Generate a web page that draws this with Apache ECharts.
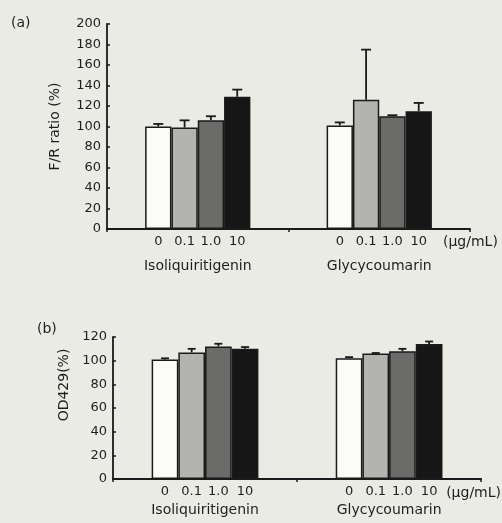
<!DOCTYPE html>
<html>
<head>
<meta charset="utf-8">
<script src="https://cdn.jsdelivr.net/npm/echarts@6/dist/echarts.min.js"></script>
<style>
html,body{margin:0;padding:0;background:#ebebe6;}
#c{width:502px;height:523px;}
</style>
</head>
<body>
<div id="c"></div>
<script>
// ---- data ----
var categories = ['Isoliquiritigenin', 'Glycycoumarin'];
var concLabels = ['0', '0.1', '1.0', '10'];
// Panel (a) F/R ratio (%), one array per concentration: [Isoliquiritigenin, Glycycoumarin]
var frMean0   = [100, 101];
var frMean01  = [99, 126];
var frMean10  = [106, 110];
var frMean100 = [129, 115];
var frErr0   = [2.5, 3];
var frErr01  = [7, 49];
var frErr10  = [4, 1];
var frErr100 = [7, 8];
// Panel (b) OD429 (%)
var odMean0   = [101, 102];
var odMean01  = [107, 106];
var odMean10  = [112, 108];
var odMean100 = [110, 114];
var odErr0   = [1, 1];
var odErr01  = [3, 0.5];
var odErr10  = [2.3, 2];
var odErr100 = [1.5, 2.2];
var yTicksA = [0, 20, 40, 60, 80, 100, 120, 140, 160, 180, 200];
var yTicksB = [0, 20, 40, 60, 80, 100, 120];

var frMeans = [frMean0, frMean01, frMean10, frMean100];
var frErrs = [frErr0, frErr01, frErr10, frErr100];
var odMeans = [odMean0, odMean01, odMean10, odMean100];
var odErrs = [odErr0, odErr01, odErr10, odErr100];

var barColors = ['#fbfbf8', '#b3b3b0', '#6b6b6a', '#161616'];
var txt = '#1e1e1e';
var font = 'DejaVu Sans';
var GAP = 0.42;

function barSeries(means, axisIdx, labelDist) {
  return means.map(function (m, i) {
    return {
      type: 'bar',
      xAxisIndex: axisIdx, yAxisIndex: axisIdx,
      data: m,
      barGap: '0%',
      barCategoryGap: (GAP * 100) + '%',
      itemStyle: { color: barColors[i], borderColor: '#1a1a1a', borderWidth: 1.5 },
      label: {
        show: true, position: 'bottom', distance: labelDist,
        formatter: concLabels[i],
        color: txt, fontFamily: font, fontSize: 13
      },
      silent: true,
      z: 2
    };
  });
}

function errSeries(means, errs, axisIdx, capHalf) {
  var data = [];
  for (var i = 0; i < means.length; i++) {
    for (var c = 0; c < categories.length; c++) {
      data.push([c, i, means[i][c], errs[i][c]]);
    }
  }
  return {
    type: 'custom',
    xAxisIndex: axisIdx, yAxisIndex: axisIdx,
    data: data,
    encode: { x: 0, y: 2 },
    silent: true,
    z: 3,
    renderItem: function (params, api) {
      var c = api.value(0), i = api.value(1), m = api.value(2), e = api.value(3);
      var band = api.size([1, 0])[0];
      var bw = band * (1 - GAP) / 4;
      var base = api.coord([c, m]);
      var top = api.coord([c, m + e]);
      var x = base[0] + (i - 1.5) * bw;
      var style = { stroke: '#1a1a1a', lineWidth: 1.8 };
      return {
        type: 'group',
        children: [
          { type: 'line', shape: { x1: x, y1: base[1], x2: x, y2: top[1] }, style: style },
          { type: 'line', shape: { x1: x - capHalf, y1: top[1], x2: x + capHalf, y2: top[1] }, style: style }
        ]
      };
    }
  };
}

function xAxisDef(gridIdx, margin, nameGap, namePadTop) {
  return {
    type: 'category', gridIndex: gridIdx,
    data: categories,
    name: '(\u03bcg/mL)',
    nameLocation: 'end',
    nameGap: nameGap,
    nameTextStyle: { color: txt, fontFamily: font, fontSize: 14, verticalAlign: 'top', align: 'left', padding: [namePadTop, 0, 0, 0] },
    axisLine: { lineStyle: { color: '#1a1a1a', width: 1.8 } },
    axisTick: { show: true, length: 3, lineStyle: { color: '#1a1a1a', width: 1.5 } },
    axisLabel: { color: txt, fontFamily: font, fontSize: 14, margin: margin },
    splitLine: { show: false }
  };
}

function yAxisDef(gridIdx, ticks, name, nameGap, namePad) {
  return {
    type: 'value', gridIndex: gridIdx,
    min: ticks[0], max: ticks[ticks.length - 1], interval: ticks[1] - ticks[0],
    name: name, nameLocation: 'middle', nameGap: nameGap, nameRotate: 90,
    nameTextStyle: { color: txt, fontFamily: font, fontSize: 14, padding: namePad },
    axisLine: { show: true, lineStyle: { color: '#1a1a1a', width: 1.8 } },
    axisTick: { show: true, inside: true, length: 3, lineStyle: { color: '#1a1a1a', width: 1.5 } },
    axisLabel: { color: txt, fontFamily: font, fontSize: 13, margin: 6 },
    splitLine: { show: false }
  };
}

var chart = echarts.init(document.getElementById('c'), null, { renderer: 'canvas' });
chart.setOption({
  backgroundColor: '#ebebe6',
  animation: false,
  title: [
    { text: '(a)', left: 6, top: 11, textStyle: { color: txt, fontFamily: font, fontSize: 14, fontWeight: 'normal' } },
    { text: '(b)', left: 32, top: 317, textStyle: { color: txt, fontFamily: font, fontSize: 14, fontWeight: 'normal' } }
  ],
  grid: [
    { left: 107, right: 32, top: 24, bottom: 294 },
    { left: 113, right: 20, top: 337, bottom: 44 }
  ],
  xAxis: [
    xAxisDef(0, 30, -27, 6),
    xAxisDef(1, 24, -35, 7)
  ],
  yAxis: [
    yAxisDef(0, yTicksA, 'F/R ratio (%)', 45, [0, 0, 0, 0]),
    yAxisDef(1, yTicksB, 'OD429(%)', 42, [0, 0, 0, 46])
  ],
  series: [].concat(
    barSeries(frMeans, 0, 6),
    barSeries(odMeans, 1, 6),
    [errSeries(frMeans, frErrs, 0, 5), errSeries(odMeans, odErrs, 1, 4)]
  )
});
</script>
</body>
</html>
